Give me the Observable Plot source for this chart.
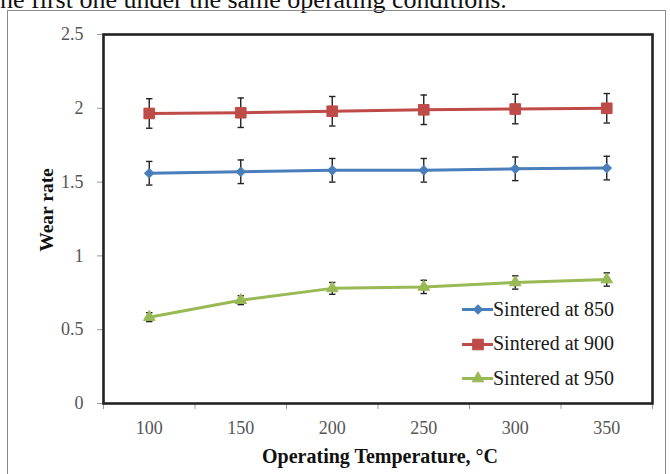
<!DOCTYPE html>
<html>
<head>
<meta charset="utf-8">
<script src="https://cdn.jsdelivr.net/npm/d3@7"></script>
<script src="https://cdn.jsdelivr.net/npm/@observablehq/plot@0.6"></script>
<style>
  html, body { margin: 0; padding: 0; background: #fff; }
  #wrap { position: relative; width: 670px; height: 474px; overflow: hidden; font-family: "Liberation Serif", serif; }
  #toptext { position: absolute; left: 0; top: -13px; font-size: 26px; line-height: 26px; white-space: nowrap; color: #111; }
  #outer { position: absolute; left: 7px; top: 10px; width: 659px; height: 480px; border: 1px solid #8a8a8a; pointer-events: none; box-sizing: border-box; }
  #chart { position: absolute; left: 0; top: 0; }
  #legend { position: absolute; left: 462px; top: 292px; font-size: 20px; color: #1a1a1a; }
  .row { height: 34.5px; display: flex; align-items: center; }
  .row svg { display: block; }
</style>
</head>
<body>
<div id="wrap">
  <div id="toptext">ne first one under the same operating conditions.</div>
  <div id="chart"></div>
  <div id="outer"></div>
  <div id="legend"></div>
</div>
<script>
// ---- data ----
const temperatures = [100, 150, 200, 250, 300, 350];
const seriesNames = ["Sintered at 850", "Sintered at 900", "Sintered at 950"];
const wear850 = [1.56, 1.57, 1.58, 1.58, 1.59, 1.595];
const wear900 = [1.965, 1.97, 1.98, 1.99, 1.995, 2.0];
const wear950 = [0.585, 0.70, 0.78, 0.79, 0.82, 0.84];
const err850 = [0.08, 0.08, 0.08, 0.08, 0.08, 0.08];
const err900 = [0.10, 0.10, 0.10, 0.10, 0.10, 0.10];
const err950 = [0.03, 0.03, 0.04, 0.045, 0.045, 0.045];
const yTicks = [0, 0.5, 1, 1.5, 2, 2.5];
const xLabel = "Operating Temperature, °C";
const yLabel = "Wear rate";

// ---- styling ----
const colors = ["#4A7EBB", "#BE4B48", "#98B954"];
const symbols = ["square", "square", "triangle"];
const rotates = [45, 0, 0];
const radii = [3.7, 6.0, 4.3];

const wears = [wear850, wear900, wear950];
const errs = [err850, err900, err950];
const table = [];
seriesNames.forEach((s, i) => {
  temperatures.forEach((t, j) => {
    table.push({series: s, t, w: wears[i][j], lo: wears[i][j] - errs[i][j], hi: wears[i][j] + errs[i][j]});
  });
});
const bounds = temperatures.map(t => t - 25).concat([temperatures[temperatures.length - 1] + 25]);

const cap = {
  draw(ctx, size) {
    const r = Math.sqrt(size / Math.PI);
    ctx.moveTo(-r, 0);
    ctx.lineTo(r, 0);
  }
};

const marks = [
  Plot.axisY({ticks: yTicks, tickFormat: d => String(d), tickSize: 6, tickPadding: 14, stroke: "#999", fill: "#555", fontSize: 18, label: null}),
  Plot.axisX({ticks: bounds, tickFormat: () => "", tickSize: 6, stroke: "#999", label: null}),
  Plot.axisX({ticks: temperatures, tickSize: 0, tickPadding: 18, fill: "#555", fontSize: 18, label: null}),
];
seriesNames.forEach((s, i) => {
  const d = table.filter(r => r.series === s);
  marks.push(Plot.line(d, {x: "t", y: "w", stroke: colors[i], strokeWidth: 3}));
});
marks.push(Plot.ruleX(table, {x: "t", y1: "lo", y2: "hi", stroke: "#222", strokeWidth: 1.4}));
marks.push(Plot.dot(table, {x: "t", y: "lo", symbol: cap, r: 3.2, stroke: "#222", fill: "none", strokeWidth: 1.4}));
marks.push(Plot.dot(table, {x: "t", y: "hi", symbol: cap, r: 3.2, stroke: "#222", fill: "none", strokeWidth: 1.4}));
seriesNames.forEach((s, i) => {
  const d = table.filter(r => r.series === s);
  marks.push(Plot.dot(d, {x: "t", y: "w", symbol: symbols[i], r: radii[i], rotate: rotates[i], fill: colors[i], stroke: colors[i], strokeWidth: 1}));
});
marks.push(Plot.frame({stroke: "#222", strokeWidth: 2.6}));
marks.push(Plot.text([xLabel], {frameAnchor: "bottom", text: d => d, textAnchor: "middle", lineAnchor: "bottom", dy: 59, dx: 2, fontSize: 20, fontWeight: "bold", fill: "#111"}));
marks.push(Plot.text([yLabel], {frameAnchor: "left", text: d => d, textAnchor: "middle", lineAnchor: "middle", rotate: -90, dx: -57, dy: -9, fontSize: 19.5, fontWeight: "bold", fill: "#111"}));

const chart = Plot.plot({
  width: 670,
  height: 474,
  marginLeft: 103,
  marginRight: 18,
  marginTop: 34,
  marginBottom: 71,
  style: {fontFamily: "Liberation Serif", fontSize: "18px", background: "transparent", overflow: "visible"},
  x: {type: "linear", domain: [bounds[0], bounds[bounds.length - 1]]},
  y: {domain: [0, 2.5]},
  marks
});
document.getElementById("chart").appendChild(chart);

// ---- legend ----
const legend = document.getElementById("legend");
seriesNames.forEach((s, i) => {
  const row = document.createElement("div");
  row.className = "row";
  const sym = Plot.plot({
    width: 31, height: 20, margin: 0,
    x: {domain: [0, 2], axis: null}, y: {domain: [0, 1], axis: null},
    style: {background: "transparent", overflow: "visible"},
    marks: [
      Plot.ruleY([0.5], {x1: 0, x2: 2, stroke: colors[i], strokeWidth: 3}),
      Plot.dot([1], {x: d => d, y: 0.5, symbol: symbols[i], r: radii[i], rotate: rotates[i], fill: colors[i], stroke: colors[i], strokeWidth: 1})
    ]
  });
  row.appendChild(sym);
  const label = document.createElement("span");
  label.textContent = s;
  row.appendChild(label);
  legend.appendChild(row);
});
</script>
</body>
</html>
